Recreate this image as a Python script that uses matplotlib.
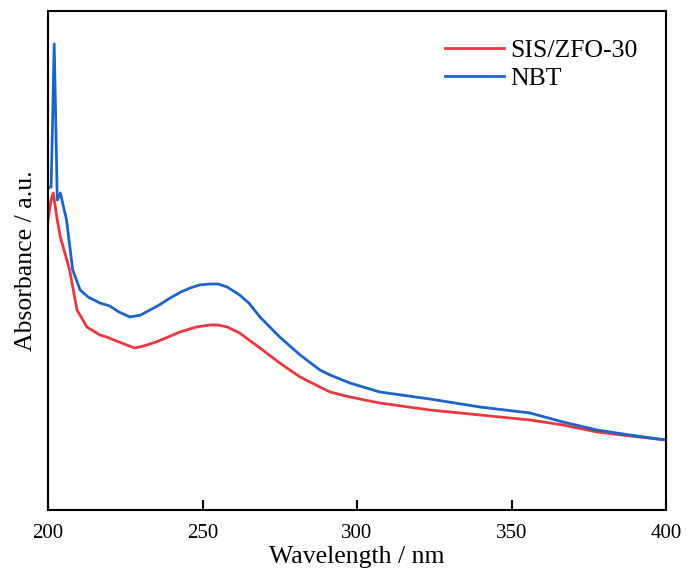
import matplotlib
matplotlib.use('Agg')
import matplotlib.pyplot as plt

# NBT spectrum (wavelength nm, absorbance a.u.)
wl_nbt = [200, 201, 201.5, 202, 202.5, 203, 204, 206, 208, 210.4, 213, 216.8,
          220, 223, 226.5, 230, 233, 236, 239.5, 243, 246, 249, 252.4, 255,
          258, 262, 265, 268.6, 275, 281.6, 288, 291.3, 297.7, 307.4, 323.6,
          339.8, 356, 366.7, 377.7, 388.3, 400]
abs_nbt = [3.22, 3.23, 3.90, 4.66, 3.90, 3.10, 3.17, 2.90, 2.40, 2.20, 2.13, 2.07,
           2.04, 1.98, 1.93, 1.95, 2.00, 2.05, 2.12, 2.18, 2.22, 2.25, 2.26, 2.26,
           2.23, 2.15, 2.07, 1.93, 1.73, 1.55, 1.40, 1.35, 1.27, 1.18, 1.11,
           1.03, 0.97, 0.88, 0.80, 0.75, 0.70]

# SIS/ZFO-30 spectrum
wl_sis = [200, 201, 201.7, 203, 204, 207, 209.4, 212.6, 216.8, 219, 223, 228,
          231, 235, 242.7, 248, 252.4, 255, 258, 262, 268.6, 275, 281.6, 288,
          291.3, 297.7, 307.4, 323.6, 339.8, 356, 366.7, 377.7, 388.3, 400]
abs_sis = [2.90, 3.10, 3.17, 2.90, 2.73, 2.40, 2.00, 1.83, 1.75, 1.73, 1.68, 1.62,
           1.64, 1.68, 1.78, 1.83, 1.85, 1.85, 1.83, 1.77, 1.62, 1.47, 1.33, 1.23,
           1.18, 1.13, 1.07, 1.00, 0.95, 0.90, 0.85, 0.78, 0.74, 0.70]

xticks = [200, 250, 300, 350, 400]

plt.rcParams['font.family'] = ['Liberation Serif', 'DejaVu Serif']

fig = plt.figure(figsize=(6.86, 5.75), dpi=100)
ax = fig.add_axes([48/686, 65/575, 618/686, 499/575])

ax.plot(wl_sis, abs_sis, color='#E8383D', lw=2, label='SIS/ZFO-30')
ax.plot(wl_nbt, abs_nbt, color='#1E64C8', lw=2, label='NBT')

ax.set_xlim(200, 400)
ax.set_ylim(0, 4.99)
ax.set_xticks(xticks)
ax.set_yticks([])
ax.tick_params(axis='x', direction='in', length=7, width=1.5, labelsize=15, pad=10)
for s in ax.spines.values():
    s.set_linewidth(1.5)

ax.set_xlabel('Wavelength / nm', fontsize=18.5, labelpad=2)
ax.set_ylabel('Absorbance / a.u.', fontsize=18.5, labelpad=8)

ax.legend(loc='upper right', frameon=False, fontsize=18.5, handlelength=2.3,
          handletextpad=0.25, labelspacing=0.2, borderaxespad=0.7, borderpad=0.4)

fig.savefig('out.png', dpi=100)
